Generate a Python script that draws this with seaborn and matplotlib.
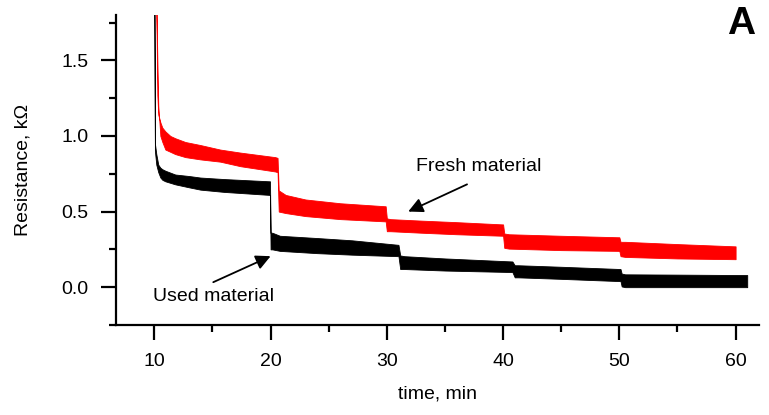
import numpy as np
import matplotlib
matplotlib.use('Agg')
import matplotlib.pyplot as plt
import seaborn as sns
from matplotlib.ticker import MultipleLocator

# fresh material (red band): time, upper and lower edge of the noisy trace
fresh_t = [10.15, 10.26, 10.34, 10.52, 10.69, 10.95, 11.38, 11.8, 12.67, 13.96, 15.67, 17.4, 20.4, 20.6,
           20.7, 21.3, 23.0, 26.0, 29.9, 30.0, 30.3, 33.0, 36.0, 40.0, 40.1, 40.5, 45.0, 50.0, 50.1,
           50.5, 55.0, 60.0]
fresh_hi = [2.0, 1.27, 1.14, 1.09, 1.055, 1.03, 1.0, 0.985, 0.96, 0.94, 0.91, 0.89, 0.86, 0.855,
            0.64, 0.61, 0.58, 0.555, 0.535, 0.455, 0.45, 0.44, 0.43, 0.415, 0.355, 0.35, 0.34, 0.33, 0.30,
            0.30, 0.285, 0.27]
fresh_lo = [2.0, 1.5, 1.2, 1.0, 0.96, 0.91, 0.895, 0.88, 0.86, 0.845, 0.83, 0.80, 0.765, 0.76,
            0.50, 0.49, 0.47, 0.45, 0.435, 0.37, 0.37, 0.36, 0.35, 0.34, 0.26, 0.255, 0.245, 0.24, 0.205,
            0.20, 0.19, 0.185]

# used material (black band)
used_t = [10.0, 10.05, 10.17, 10.34, 10.52, 10.69, 10.95, 11.8, 13.0, 13.96, 16.0, 19.95,
          20.0, 20.15, 20.8, 24.0, 27.0, 31.0, 31.15, 31.5, 35.0, 40.8, 41.0, 41.3, 45.0, 50.1, 50.2,
          50.5, 55.0, 61.0]
used_hi = [2.0, 0.95, 0.88, 0.81, 0.79, 0.78, 0.77, 0.745, 0.735, 0.725, 0.715, 0.70,
           0.36, 0.36, 0.34, 0.325, 0.31, 0.28, 0.21, 0.205, 0.19, 0.17, 0.145, 0.145, 0.135, 0.12, 0.09,
           0.085, 0.083, 0.08]
used_lo = [2.0, 0.90, 0.81, 0.76, 0.725, 0.71, 0.70, 0.68, 0.66, 0.645, 0.63, 0.61,
           0.25, 0.25, 0.24, 0.225, 0.215, 0.205, 0.12, 0.12, 0.11, 0.10, 0.065, 0.065, 0.055, 0.04, 0.005,
           0.0, 0.0, 0.0]

sns.set_style('ticks')
plt.rcParams['font.family'] = ['Liberation Sans', 'DejaVu Sans']
plt.rcParams['text.color'] = 'black'
plt.rcParams['xtick.color'] = 'black'
plt.rcParams['ytick.color'] = 'black'
plt.rcParams['axes.labelcolor'] = 'black'

fig = plt.figure(figsize=(7.69, 4.15), dpi=100)
ax = fig.add_axes([0.1508, 0.2169, 0.836, 0.747])

ax.fill_between(used_t, used_lo, used_hi, color='black', lw=0.6)
ax.fill_between(fresh_t, fresh_lo, fresh_hi, color='red', lw=0.6)

ax.set_xlim(6.7, 62.0)
ax.set_ylim(-0.25, 1.80)
ax.xaxis.set_major_locator(MultipleLocator(10))
ax.xaxis.set_minor_locator(MultipleLocator(5))
ax.yaxis.set_major_locator(MultipleLocator(0.5))
ax.yaxis.set_minor_locator(MultipleLocator(0.25))
ax.yaxis.set_major_formatter(plt.FormatStrFormatter('%.1f'))
sns.despine(ax=ax)
for s in ['left', 'bottom']:
    ax.spines[s].set_linewidth(1.6)
    ax.spines[s].set_color('black')
ax.tick_params(which='major', length=11, width=1.6, labelsize=14, pad=9)
ax.tick_params(which='minor', length=5, width=1.6)

ax.set_xlabel('time, min', fontsize=14, labelpad=11)
ax.set_ylabel('Resistance, k\u03a9', fontsize=14, labelpad=21)

arrow = dict(arrowstyle='-|>', color='black', lw=1.3, mutation_scale=22, shrinkA=0, shrinkB=0)
ax.text(37.86, 0.80, 'Fresh material', fontsize=14, ha='center', va='center')
ax.annotate('', xy=(31.84, 0.50), xytext=(36.9, 0.68), arrowprops=arrow)
ax.text(15.07, -0.06, 'Used material', fontsize=14, ha='center', va='center')
ax.annotate('', xy=(20.0, 0.205), xytext=(15.07, 0.033), arrowprops=arrow)

fig.text(0.9636, 0.942, 'A', fontsize=28, fontweight='bold', ha='center', va='center')

fig.savefig('out.png', dpi=100)
